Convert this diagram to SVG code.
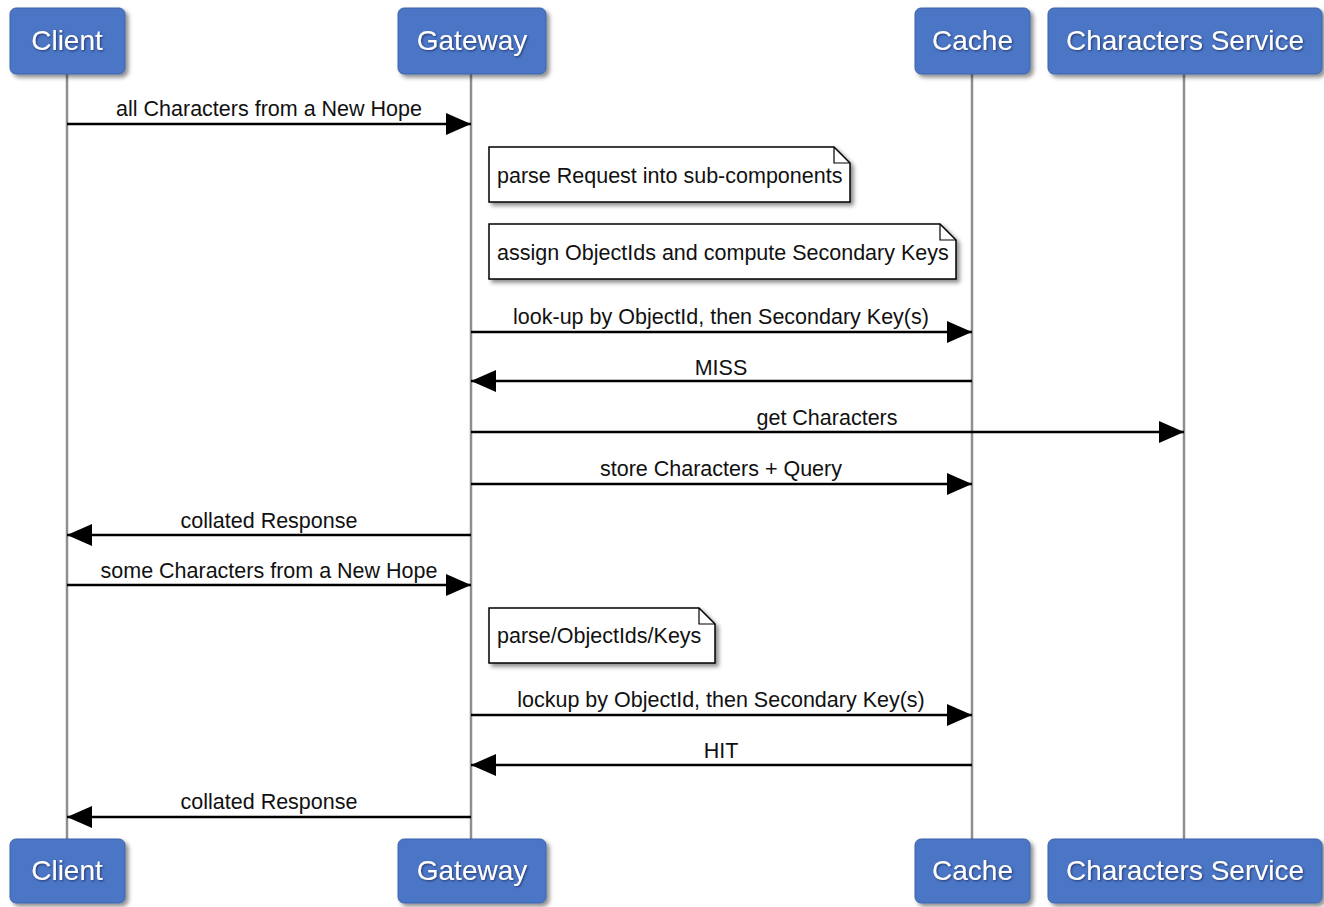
<svg xmlns="http://www.w3.org/2000/svg" width="1324" height="907" viewBox="0 0 1324 907">
<defs>
<filter id="sh" x="-10%" y="-10%" width="130%" height="140%">
<feDropShadow dx="3" dy="3" stdDeviation="2" flood-color="#000" flood-opacity="0.45"/>
</filter>
<filter id="tsh" x="-10%" y="-20%" width="130%" height="150%">
<feDropShadow dx="1" dy="1" stdDeviation="0.8" flood-color="#1c2f5e" flood-opacity="0.9"/>
</filter>
<marker id="ah" markerUnits="userSpaceOnUse" markerWidth="26" markerHeight="24" viewBox="0 0 26 24" refX="25" refY="12" orient="auto-start-reverse">
<path d="M0,1 L25,12 L0,23 Z" fill="#000"/>
</marker>
<style>
.box{fill:#4b76c6;stroke:#3d62aa;stroke-width:1;filter:url(#sh)}
.ht{font-family:"Liberation Sans",Arial,sans-serif;font-size:28px;fill:#fff;text-anchor:middle;filter:url(#tsh)}
.life{stroke:#8f8f8f;stroke-width:2.5;fill:none}
.msg{stroke:#000;stroke-width:2.5;fill:none;marker-end:url(#ah)}
.lbl{font-family:"Liberation Sans",Arial,sans-serif;font-size:21.5px;fill:#111;text-anchor:middle}
.note{fill:#fff;stroke:#000;stroke-width:1.5;filter:url(#sh)}
.fold{fill:none;stroke:#000;stroke-width:1.2}
.nt{font-family:"Liberation Sans",Arial,sans-serif;font-size:21.5px;fill:#111}
</style>
</defs>
<rect width="1324" height="907" fill="#fff"/>
<g id="lifelines">
<line class="life" x1="67" y1="74" x2="67" y2="840"/>
<line class="life" x1="471" y1="74" x2="471" y2="840"/>
<line class="life" x1="972" y1="74" x2="972" y2="840"/>
<line class="life" x1="1184" y1="74" x2="1184" y2="840"/>
</g>
<g id="client">
<rect class="box" x="10" y="8" width="115" height="66" rx="6"/>
<text class="ht" x="67" y="50">Client</text>
<rect class="box" x="10" y="839" width="115" height="64" rx="6"/>
<text class="ht" x="67" y="880">Client</text>
</g>
<g id="gateway">
<rect class="box" x="398" y="8" width="148" height="66" rx="6"/>
<text class="ht" x="472" y="50">Gateway</text>
<rect class="box" x="398" y="839" width="148" height="64" rx="6"/>
<text class="ht" x="472" y="880">Gateway</text>
</g>
<g id="cache">
<rect class="box" x="915" y="8" width="115" height="66" rx="6"/>
<text class="ht" x="972.5" y="50">Cache</text>
<rect class="box" x="915" y="839" width="115" height="64" rx="6"/>
<text class="ht" x="972.5" y="880">Cache</text>
</g>
<g id="characters-service">
<rect class="box" x="1048" y="8" width="274" height="66" rx="6"/>
<text class="ht" x="1185" y="50">Characters Service</text>
<rect class="box" x="1048" y="839" width="274" height="64" rx="6"/>
<text class="ht" x="1185" y="880">Characters Service</text>
</g>
<g id="note1">
<path class="note" d="M489,147 H834 L850,163 V202 H489 Z"/>
<path class="fold" d="M834,147 V163 H850"/>
<text class="nt" x="497" y="183">parse Request into sub-components</text>
</g>
<g id="note2">
<path class="note" d="M489,224 H940 L956,240 V279 H489 Z"/>
<path class="fold" d="M940,224 V240 H956"/>
<text class="nt" x="497" y="260">assign ObjectIds and compute Secondary Keys</text>
</g>
<g id="note3">
<path class="note" d="M489,608 H699 L715,624 V663 H489 Z"/>
<path class="fold" d="M699,608 V624 H715"/>
<text class="nt" x="497" y="643">parse/ObjectIds/Keys</text>
</g>
<g id="connectors">
<line class="msg" x1="67" y1="124" x2="471" y2="124"/>
<text class="lbl" x="269" y="116">all Characters from a New Hope</text>
<line class="msg" x1="471" y1="332" x2="972" y2="332"/>
<text class="lbl" x="721" y="324">look-up by ObjectId, then Secondary Key(s)</text>
<line class="msg" x1="972" y1="381" x2="471" y2="381"/>
<text class="lbl" x="721" y="375">MISS</text>
<line class="msg" x1="471" y1="432" x2="1184" y2="432"/>
<text class="lbl" x="827" y="425">get Characters</text>
<line class="msg" x1="471" y1="484" x2="972" y2="484"/>
<text class="lbl" x="721" y="476">store Characters + Query</text>
<line class="msg" x1="471" y1="535" x2="67" y2="535"/>
<text class="lbl" x="269" y="528">collated Response</text>
<line class="msg" x1="67" y1="585" x2="471" y2="585"/>
<text class="lbl" x="269" y="578">some Characters from a New Hope</text>
<line class="msg" x1="471" y1="715" x2="972" y2="715"/>
<text class="lbl" x="721" y="707">lockup by ObjectId, then Secondary Key(s)</text>
<line class="msg" x1="972" y1="765" x2="471" y2="765"/>
<text class="lbl" x="721" y="758">HIT</text>
<line class="msg" x1="471" y1="817" x2="67" y2="817"/>
<text class="lbl" x="269" y="809">collated Response</text>
</g>
</svg>
